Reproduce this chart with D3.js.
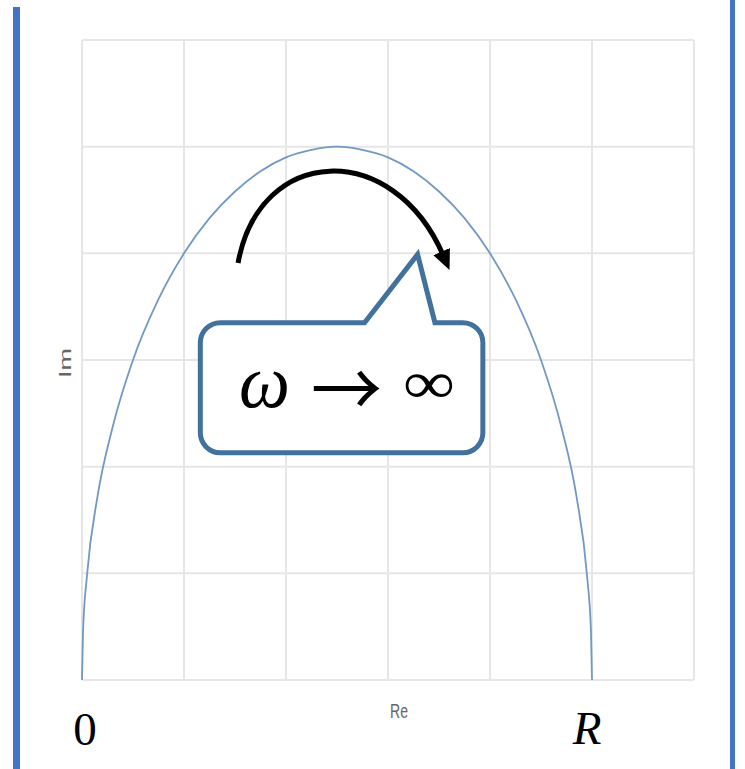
<!DOCTYPE html>
<html>
<head>
<meta charset="utf-8">
<script src="https://cdn.jsdelivr.net/npm/d3@7"></script>
<style>
  body { margin: 0; background: #fff; }
  svg { display: block; }
</style>
</head>
<body>
<svg id="chart" width="745" height="769"></svg>
<script>
// grid ticks (data units)
const xTicks = [0, 1, 2, 3, 4, 5, 6];
const yTicks = [0, 1, 2, 3, 4, 5, 6];

// locus points (Re, Im)
const reValues = [0, 0.01, 0.05, 0.15, 0.3, 0.5, 0.75, 1, 1.25, 1.5, 1.75, 2, 2.25, 2.5,
                  2.75, 3, 3.25, 3.5, 3.75, 4, 4.25, 4.5, 4.7, 4.85, 4.95, 4.99, 5];
const imValues = [0, 0.45, 0.99, 1.71, 2.37, 3.0, 3.57, 4.0, 4.33, 4.58, 4.77, 4.9, 4.97, 5,
                  4.97, 4.9, 4.77, 4.58, 4.33, 4.0, 3.57, 3.0, 2.37, 1.71, 0.99, 0.45, 0];

// annotation anchors (data units)
const arcPoints = [[1.53, 3.91], [1.74, 5.02], [3.05, 5.07], [3.6, 3.86]];
const boxCorners = [[1.16, 3.35], [3.93, 2.13]];
const pointer = [[2.77, 3.35], [3.29, 3.99], [3.46, 3.35]];

const labels = { re: "Re", im: "Im", origin: "0", end: "R" };
const calloutParts = ["ω", "→", "∞"];

const svg = d3.select("#chart");
const width = +svg.attr("width");
const height = +svg.attr("height");

const x = d3.scaleLinear().domain([0, 6]).range([82, 694]);
const y = d3.scaleLinear().domain([0, 6]).range([680, 40]);

// side rules
svg.append("rect").attr("x", 13).attr("y", 7).attr("width", 7).attr("height", height - 7).attr("fill", "#4472C4");
svg.append("rect").attr("x", 730).attr("y", 0).attr("width", 5).attr("height", height).attr("fill", "#4472C4");

// grid
const grid = svg.append("g").attr("stroke", "#e6e6e6").attr("stroke-width", 2);
grid.selectAll("line.v").data(xTicks).enter().append("line")
  .attr("x1", d => x(d)).attr("x2", d => x(d))
  .attr("y1", y(6)).attr("y2", y(0));
grid.selectAll("line.h").data(yTicks).enter().append("line")
  .attr("y1", d => y(d)).attr("y2", d => y(d))
  .attr("x1", x(0)).attr("x2", x(6));

// locus
const pts = reValues.map((r, i) => [r, imValues[i]]);
const line = d3.line().x(d => x(d[0])).y(d => y(d[1])).curve(d3.curveMonotoneX);
svg.append("path").datum(pts)
  .attr("d", line)
  .attr("fill", "none")
  .attr("stroke", "#7399c2")
  .attr("stroke-width", 1.8);

// axis labels
svg.append("text")
  .attr("x", x(3.02)).attr("y", 718)
  .attr("font-family", "Liberation Sans Narrow, Arial Narrow, sans-serif")
  .attr("font-size", 20)
  .attr("textLength", 18).attr("lengthAdjust", "spacingAndGlyphs")
  .attr("fill", "#666")
  .text(labels.re);

svg.append("text")
  .attr("transform", `translate(71,378) rotate(-90)`)
  .attr("font-family", "Liberation Sans, Arial, sans-serif")
  .attr("font-size", 17)
  .attr("textLength", 30).attr("lengthAdjust", "spacingAndGlyphs")
  .attr("fill", "#666")
  .text(labels.im);

svg.append("text")
  .attr("x", x(0) + 3).attr("y", 745)
  .attr("text-anchor", "middle")
  .attr("font-family", "Liberation Serif, Times New Roman, serif")
  .attr("font-size", 47)
  .attr("fill", "#000")
  .text(labels.origin);

svg.append("text")
  .attr("x", x(5) - 5).attr("y", 744)
  .attr("text-anchor", "middle")
  .attr("font-family", "Liberation Serif, Times New Roman, serif")
  .attr("font-style", "italic")
  .attr("font-size", 47)
  .attr("fill", "#000")
  .text(labels.end);

// curved arrow
const defs = svg.append("defs");
defs.append("marker")
  .attr("id", "head")
  .attr("markerUnits", "userSpaceOnUse")
  .attr("viewBox", "0 -10 20 20")
  .attr("refX", 4).attr("refY", 0)
  .attr("markerWidth", 20).attr("markerHeight", 20)
  .attr("orient", "auto")
  .append("path")
  .attr("d", "M0,-9L20,0L0,9Z")
  .attr("fill", "#000");

const ap = arcPoints.map(d => [x(d[0]), y(d[1])]);
const arc = d3.path();
arc.moveTo(ap[0][0], ap[0][1]);
arc.bezierCurveTo(ap[1][0], ap[1][1], ap[2][0], ap[2][1], ap[3][0] - 6, ap[3][1] - 13);
svg.append("path")
  .attr("d", arc.toString())
  .attr("fill", "none")
  .attr("stroke", "#000")
  .attr("stroke-width", 5)
  .attr("marker-end", "url(#head)");

// callout
const bx0 = x(boxCorners[0][0]), by0 = y(boxCorners[0][1]);
const bx1 = x(boxCorners[1][0]), by1 = y(boxCorners[1][1]);
const r = 20;
const pp = pointer.map(d => [x(d[0]), y(d[1])]);
const c = d3.path();
c.moveTo(bx0 + r, by0);
c.lineTo(pp[0][0], by0);
c.lineTo(pp[1][0], pp[1][1]);
c.lineTo(pp[2][0], by0);
c.lineTo(bx1 - r, by0);
c.arcTo(bx1, by0, bx1, by0 + r, r);
c.lineTo(bx1, by1 - r);
c.arcTo(bx1, by1, bx1 - r, by1, r);
c.lineTo(bx0 + r, by1);
c.arcTo(bx0, by1, bx0, by1 - r, r);
c.lineTo(bx0, by0 + r);
c.arcTo(bx0, by0, bx0 + r, by0, r);
c.closePath();
svg.append("path")
  .attr("d", c.toString())
  .attr("fill", "#fff")
  .attr("stroke", "#41719C")
  .attr("stroke-width", 5)
  .attr("stroke-linejoin", "miter");

svg.append("text")
  .attr("x", 239).attr("y", 407)
  .attr("font-family", "Liberation Serif, Times New Roman, serif")
  .attr("font-style", "italic")
  .attr("font-size", 77)
  .attr("textLength", 51).attr("lengthAdjust", "spacingAndGlyphs")
  .text(calloutParts[0]);
svg.append("text")
  .attr("x", 311).attr("y", 417)
  .attr("font-family", "Noto Sans CJK SC, sans-serif")
  .attr("font-size", 75)
  .attr("textLength", 71).attr("lengthAdjust", "spacingAndGlyphs")
  .text(calloutParts[1]);
svg.append("text")
  .attr("x", 403).attr("y", 403)
  .attr("font-family", "Liberation Serif, Times New Roman, serif")
  .attr("font-size", 60)
  .attr("textLength", 52).attr("lengthAdjust", "spacingAndGlyphs")
  .text(calloutParts[2]);
</script>
</body>
</html>
